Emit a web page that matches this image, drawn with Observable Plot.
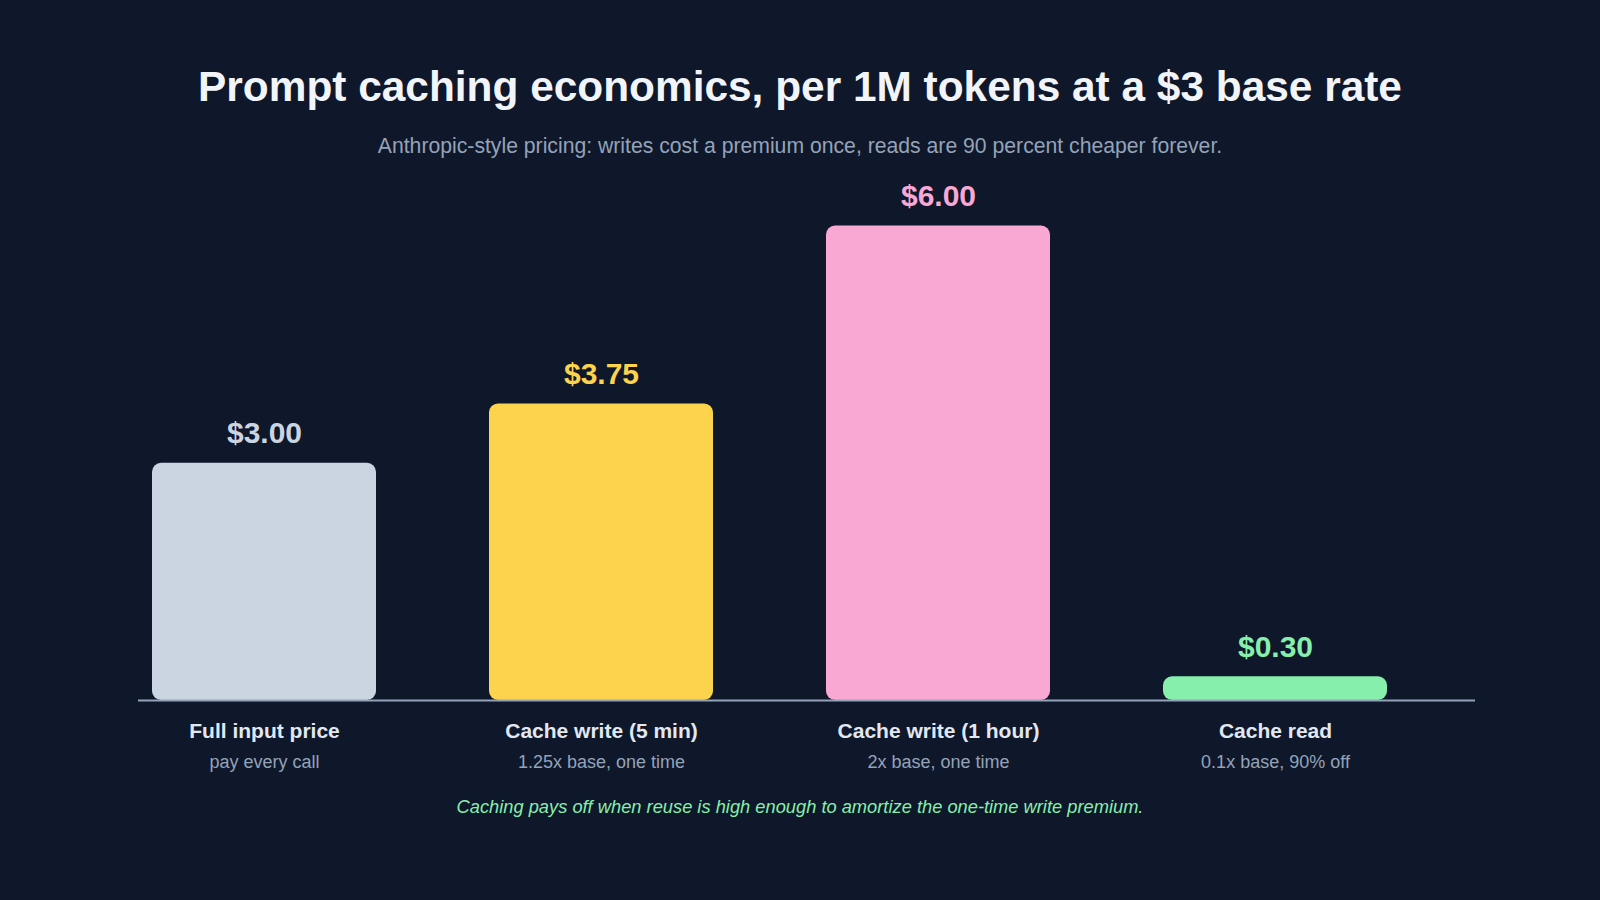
<!DOCTYPE html>
<html>
<head>
<meta charset="utf-8">
<script src="https://cdn.jsdelivr.net/npm/d3@7"></script>
<script src="https://cdn.jsdelivr.net/npm/@observablehq/plot@0.6"></script>
<style>
  html, body { margin: 0; padding: 0; background: #0f172a; }
  body { width: 1600px; height: 900px; overflow: hidden; font-family: "Liberation Sans", Arial, sans-serif; }
  #title { padding-top: 62px; margin: 0; text-align: center; color: #f1f5f9; font-size: 42.4px; font-weight: bold; line-height: 50px; }
  #subtitle { margin-top: 22px; text-align: center; color: #94a3b8; font-size: 21.2px; line-height: 24px; }
  #chart { margin-top: 12px; height: 610px; }
  #chart svg { display: block; }
  #footer { margin-top: 16px; text-align: center; color: #86efac; font-size: 18.3px; font-style: italic; line-height: 22px; }
</style>
</head>
<body>
<div id="title">Prompt caching economics, per 1M tokens at a $3 base rate</div>
<div id="subtitle">Anthropic-style pricing: writes cost a premium once, reads are 90 percent cheaper forever.</div>
<div id="chart"></div>
<div id="footer">Caching pays off when reuse is high enough to amortize the one-time write premium.</div>
<script>
const categories = ["Full input price", "Cache write (5 min)", "Cache write (1 hour)", "Cache read"];
const prices = [3.00, 3.75, 6.00, 0.30];
const notes = ["pay every call", "1.25x base, one time", "2x base, one time", "0.1x base, 90% off"];
const colors = ["#cbd5e1", "#fcd34d", "#f9a8d4", "#86efac"];

const data = categories.map((c, i) => ({category: c, price: prices[i], note: notes[i], color: colors[i]}));

const chart = Plot.plot({
  width: 1600,
  height: 610,
  marginTop: 55.5,
  marginBottom: 80,
  marginLeft: 138,
  marginRight: 125,
  style: {background: "transparent", fontFamily: "\"Liberation Sans\", Arial, sans-serif"},
  x: {domain: categories, range: [150.5, 1388.5], paddingInner: 0.334, paddingOuter: 0, axis: null},
  y: {domain: [0, 6], axis: null},
  color: {domain: categories, range: colors},
  marks: [
    Plot.barY(data, {x: "category", y: "price", fill: "category", rx: 9}),
    Plot.ruleY([0], {stroke: "#94a3b8", strokeWidth: 2}),
    Plot.text(data, {x: "category", y: "price", text: d => "$" + d.price.toFixed(2), fill: "category",
      dy: -20, lineAnchor: "bottom", fontSize: 30, fontWeight: "bold"}),
    Plot.text(data, {x: "category", y: 0, text: "category", fill: "#e2e8f0",
      dy: 31, fontSize: 21, fontWeight: "bold"}),
    Plot.text(data, {x: "category", y: 0, text: "note", fill: "#94a3b8",
      dy: 62, fontSize: 18})
  ]
});
document.getElementById("chart").appendChild(chart);
</script>
</body>
</html>
